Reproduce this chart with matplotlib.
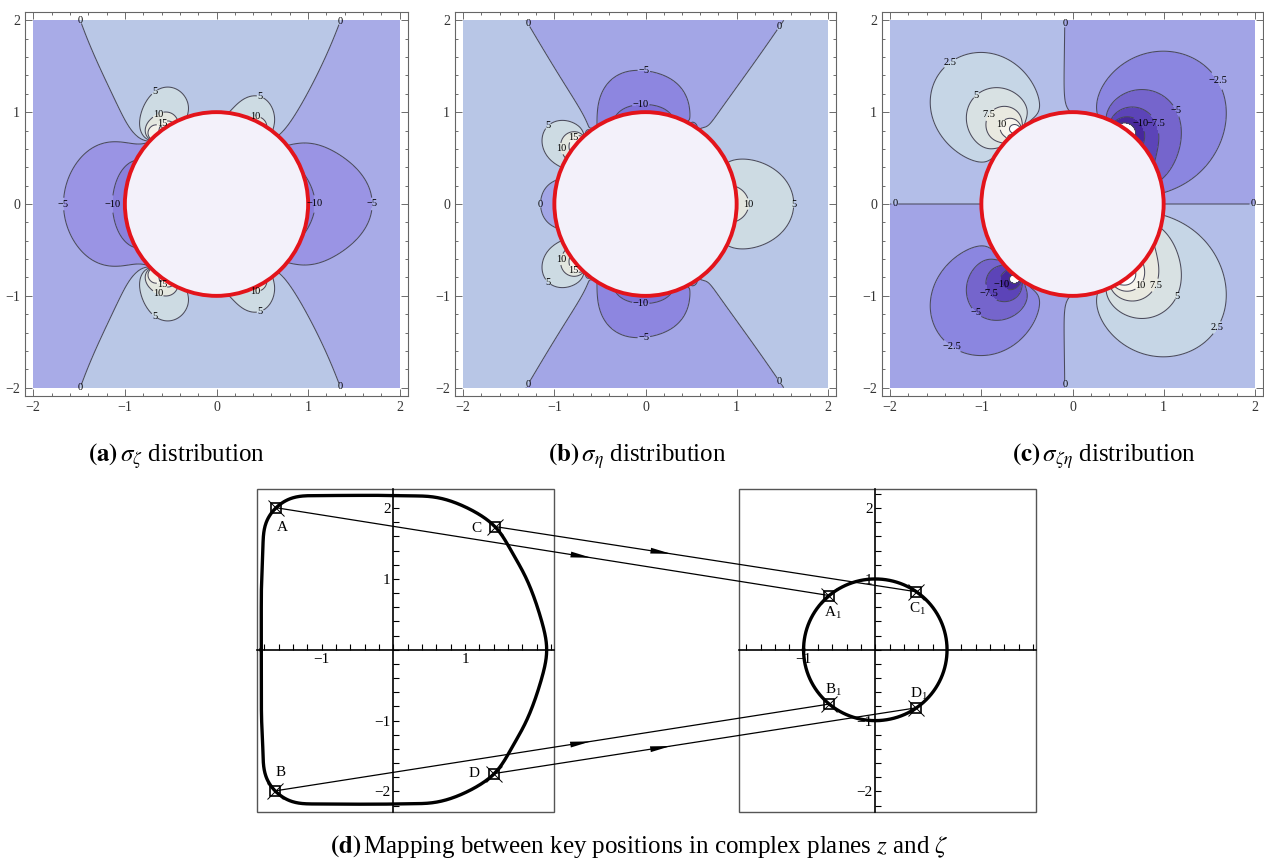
import numpy as np
import matplotlib
matplotlib.use("Agg")
import matplotlib.pyplot as plt
from matplotlib.patches import Circle, Rectangle, ConnectionPatch, FancyArrowPatch
from matplotlib.ticker import MultipleLocator
from matplotlib.transforms import IdentityTransform

W, H = 1264, 866

plt.rcParams["font.family"] = ["Liberation Serif", "DejaVu Serif"]
plt.rcParams["mathtext.fontset"] = "stix"
plt.rcParams["contour.negative_linestyle"] = "solid"

# ---- stress readings (x, y, value), upper half; the lower half follows by symmetry ----
SZ_PTS = [
    (-1.74, 1.99, 0), (-1.45, 1.49, 0), (-1.16, 1.13, 0), (-0.90, 0.84, 0),
    (1.37, 1.98, 0), (1.10, 1.42, 0), (0.84, 0.95, 0), (0.70, 0.77, 0),
    (-0.78, 0.66, -5), (-1.0, 0.66, -5), (-1.2, 0.655, -5), (-1.40, 0.58, -5), (-1.58, 0.32, -5), (-1.65, 0.0, -5),
    (0.79, 0.64, -5), (1.0, 0.64, -5), (1.30, 0.58, -5), (1.52, 0.38, -5), (1.64, 0.0, -5),
    (-1.10, 0.0, -10), (-1.05, 0.30, -10), (-0.88, 0.51, -10),
    (1.06, 0.0, -10), (1.04, 0.13, -10), (0.99, 0.26, -10),
    (-0.79, 1.02, 5), (-0.72, 1.20, 5), (-0.47, 1.27, 5), (-0.27, 1.13, 5), (-0.33, 0.97, 5),
    (0.19, 1.06, 5), (0.34, 1.18, 5), (0.52, 1.16, 5), (0.63, 0.95, 5), (0.62, 0.82, 5),
    (-0.70, 0.95, 10), (-0.58, 1.00, 10), (-0.44, 0.92, 10), (0.42, 0.95, 10),
    (-0.68, 0.875, 15), (-0.54, 0.89, 15),
    (0, 1.2, 2.5), (0, 1.6, 2), (0, 2, 1.5), (-0.9, 2, 1), (0.7, 2, 1), (-1.2, 1.8, 0.5),
    (2, 0, -4), (2, 1, -2.5), (2, 2, -1), (-2, 0, -4), (-2, 1, -2.5), (-2, 2, -1),
    (1.3, 1.0, -2.5), (-1.4, 1.0, -2.5), (1.3, 0.3, -7), (-1.3, 0.3, -7.5),
    (0.4, 1.4, 3), (-0.5, 1.45, 3), (-0.92, 1.0, 2.5),
    (1.25, 0.12, -8), (-1.25, 0.12, -8.5),
]
SZ_EDGE_ANG = [0, 15, 30, 45, 60, 75, 90, 100, 108, 120, 128, 145, 165, 180]
SZ_EDGE_VAL = [-11, -10, -8, -2, 12, 7, 3, 3.5, 5, 18, 15, -8, -12, -13]

SE_PTS = [
    (-1.26, 1.98, 0), (-0.97, 1.50, 0), (-0.75, 1.14, 0), (-0.62, 0.84, 0),
    (1.39, 1.98, 0), (1.12, 1.39, 0), (0.82, 1.03, 0), (0.63, 0.83, 0),
    (-1.15, 0.0, 0), (-1.07, 0.18, 0), (-1.0, 0.26, 0),
    (-0.55, 1.03, -5), (-0.42, 1.32, -5), (-0.02, 1.43, -5), (0.35, 1.32, -5), (0.49, 1.03, -5), (0.50, 0.88, -5),
    (-0.31, 0.98, -10), (-0.02, 1.05, -10), (0.27, 0.99, -10),
    (0.95, 0.48, 5), (1.30, 0.44, 5), (1.56, 0.19, 5), (1.57, 0.0, 5),
    (-0.90, 0.91, 5), (-1.13, 0.66, 5), (-0.97, 0.44, 5),
    (1.12, 0.0, 10), (1.03, 0.19, 10), (-0.95, 0.62, 10), (-0.88, 0.74, 10),
    (-0.82, 0.70, 15),
    (0, 1.2, -7.5), (0, 1.7, -4), (0, 2, -3), (0.9, 1.8, -1.5), (-0.9, 1.8, -1),
    (2, 1, 2), (2, 2, 1), (2, 0, 3.5), (1.3, 0.2, 7.5), (-2, 0, 1.5), (-2, 1, 1.5), (-2, 2, 1),
    (-1.3, 0.3, 2), (-1.05, 0.1, -1.5), (1.3, 1.0, 2), (-1.2, 1.0, 2.5), (1.6, 1.4, 1),
    (0.75, 0.85, 0.8), (0.6, 1.1, -3),
]
SE_EDGE_ANG = [0, 15, 27, 40, 75, 90, 108, 120, 140, 150, 160, 170, 180]
SE_EDGE_VAL = [12, 8, 5, 2.5, -10, -13, -10, -6, 20, 10, 3, -1.5, -3]

SS_PTS = [
    (-0.10, 1.99, 0), (-0.07, 1.30, 0), (-0.04, 1.02, 0),
    (-1.53, 1.12, 2.5), (-1.39, 1.49, 2.5), (-0.88, 1.59, 2.5), (-0.44, 1.38, 2.5), (-0.37, 1.12, 2.5),
    (-0.44, 0.92, 2.5), (-1.17, 0.53, 2.5), (-0.90, 0.47, 2.5),
    (-1.10, 0.97, 5), (-1.00, 1.12, 5), (-0.72, 1.23, 5), (-0.52, 1.05, 5),
    (-0.97, 0.90, 7.5), (-0.82, 1.06, 7.5), (-0.60, 1.03, 7.5),
    (-0.86, 0.86, 10), (-0.75, 0.95, 10), (-0.62, 0.92, 10),
    (0.30, 0.98, -2.5), (0.26, 1.12, -2.5), (0.58, 1.63, -2.5), (0.99, 1.72, -2.5), (1.50, 1.52, -2.5),
    (1.72, 1.12, -2.5), (1.64, 0.65, -2.5), (1.31, 0.25, -2.5), (1.03, 0.11, -2.5),
    (0.37, 1.01, -5), (0.66, 1.21, -5), (1.10, 1.09, -5), (1.20, 0.65, -5), (1.03, 0.36, -5),
    (0.50, 1.00, -7.5), (0.91, 0.85, -7.5), (0.95, 0.62, -7.5),
    (0.55, 0.95, -10), (0.78, 0.82, -10),
    (1.9, 1.9, -1.5), (1.9, 0.3, -0.7), (1.9, 1.0, -2), (1.0, 1.0, -6), (1.0, 1.4, -3.5), (1.4, 0.5, -3),
    (1.9, 1.5, -1.8), (1.85, 0.6, -1.6), (1.0, 1.95, -1.8), (0.3, 1.7, -1.0),
    (-1.9, 1.9, 1.0), (-1.9, 0.5, 0.8), (-1.9, 1.1, 1.5), (-0.9, 1.1, 6.5), (-0.9, 1.4, 3.5), (-1.3, 0.3, 1.0),
    (-1.75, 1.1, 1.8), (-1.6, 1.7, 1.6), (-0.9, 1.85, 1.6), (-1.9, 1.5, 1.3), (-1.6, 0.5, 1.2),
    (0.5, 1.9, -1), (-0.5, 1.9, 0.8),
]
SS_EDGE_ANG = [28, 40, 50, 55, 60, 66, 80, 100, 122, 130, 137, 145, 160, 170]
SS_EDGE_VAL = [-7.5, -10, -14, -15, -12, -7, -1.5, 0.7, 6, 14, 9, 4, 1.5, 0.5]

# stress concentrations sit next to the hole corners (angles in the zeta plane)
CORNER_ANGLES = [55, 130]

# ---- contour levels and band colours ----
SZ_LEVELS = [-10, -5, 0, 5, 10, 15]
SZ_COLORS = ["#8a80dc", "#9a94e4", "#a8abe7", "#b9c7e6", "#cddbe3", "#e4e7df", "#f4f2ea"]
SE_LEVELS = [-10, -5, 0, 5, 10, 15]
SE_COLORS = ["#7f72d8", "#8d86e0", "#a3a6e6", "#b8c6e6", "#cddbe3", "#e4e7df", "#f4f2ea"]
SS_LEVELS = [-12.5, -10, -7.5, -5, -2.5, 0, 2.5, 5, 7.5, 10, 12.5]
SS_COLORS = ["#ffffff", "#47289c", "#5c44b8", "#7565cc", "#8b86e0", "#a2a4e6",
             "#b3bee8", "#c6d6e6", "#d8e1e3", "#e9e9e0", "#f7f4ec", "#ffffff"]

SZ_LABELS = {0: [(-1.74, 1.99), (1.37, 1.98), (-1.74, -1.99), (1.37, -1.98)],
             -5: [(-1.65, 0), (1.64, 0)], -10: [(-1.10, 0), (1.06, 0)],
             5: [(-0.70, 1.25), (0.48, 1.18), (-0.70, -1.25), (0.48, -1.18)],
             10: [(-0.64, 0.98), (0.42, 0.95), (-0.64, -0.98), (0.42, -0.95)],
             15: [(-0.62, 0.90), (-0.62, -0.90)]}
SE_LABELS = {0: [(-1.26, 1.98), (1.39, 1.98), (-1.26, -1.98), (1.39, -1.98), (-1.15, 0)],
             -5: [(-0.02, 1.43), (-0.02, -1.43)], -10: [(-0.05, 1.05), (-0.05, -1.05)],
             5: [(1.57, 0), (-1.08, 0.86), (-1.08, -0.86)],
             10: [(1.12, 0), (-0.93, 0.60), (-0.93, -0.60)],
             15: [(-0.80, 0.73), (-0.80, -0.73)]}
SS_LABELS = {0: [(-0.10, 1.96), (-0.11, -1.96), (-1.95, 0), (1.98, 0)],
             2.5: [(-1.31, 1.49), (1.61, -1.36)], -2.5: [(1.62, 1.36), (-1.28, -1.49)],
             5: [(-1.0, 1.12), (1.11, -0.985)], -5: [(1.11, 1.0), (-0.985, -1.105)],
             7.5: [(-0.89, 0.96), (0.876, -0.87)], -7.5: [(0.91, 0.87), (-0.89, -0.96)],
             10: [(-0.81, 0.88), (0.71, -0.86)], -10: [(0.74, 0.87), (-0.80, -0.89)]}

# ---- hole outline in the z plane (upper half, traced from x>0 round to x<0) and key points ----
OUTLINE_X = [2.14, 2.116, 2.046, 1.953, 1.813, 1.628, 1.418, 1.255, 1.02, 0.79, 0.558, 0.30, 0.093,
             -0.20, -0.60, -1.00, -1.30, -1.45, -1.53, -1.62, -1.70, -1.77, -1.81, -1.825,
             -1.835, -1.84, -1.84, -1.84, -1.84]
OUTLINE_Y = [0.0, 0.198, 0.48, 0.763, 1.092, 1.422, 1.742, 1.87, 2.01, 2.10, 2.161, 2.17, 2.175,
             2.18, 2.18, 2.175, 2.165, 2.13, 2.095, 2.01, 1.92, 1.83, 1.55, 1.25,
             1.00, 0.75, 0.50, 0.25, 0.0]
KEY_NAMES = ["A", "B", "C", "D"]
KEY_X = [-1.62, -1.64, 1.418, 1.40]
KEY_Y = [1.99, -1.99, 1.742, -1.74]
KEY_ANG = [130, -130, 55, -55]
HEAD_AT = [0.575, 0.575, 0.425, 0.425]


def field_basis(x, y, sym):
    z = x + 1j * y
    r = np.abs(z)
    th = np.angle(z)
    trig = np.cos if sym > 0 else np.sin
    cols = [trig(2 * th)]
    if sym > 0:
        cols.append(np.ones_like(r))
    for n in range(0 if sym > 0 else 1, 9):
        for m in (2, 4, 6):
            cols.append(trig(n * th) / r ** m)
    # compact lobes next to the corners: 1/(z-p)^k minus its far-field part
    for ang in CORNER_ANGLES:
        p = 0.9 * np.exp(1j * np.radians(ang))
        for k in (1, 2, 3):
            w1 = 1 / (z - p) ** k - 1 / z ** k
            zc = np.conj(z)
            w2 = 1 / (zc - p) ** k - 1 / zc ** k
            cols.append(w1.real + sym * w2.real)
            cols.append(w1.imag + sym * w2.imag)
    return np.stack(cols, axis=-1)


def fit_field(pts, edge_ang, edge_val, sym):
    pts = np.array(pts, dtype=float)
    a = np.radians(edge_ang)
    x = np.concatenate([pts[:, 0], 1.02 * np.cos(a)])
    y = np.concatenate([pts[:, 1], 1.02 * np.sin(a)])
    v = np.concatenate([pts[:, 2], edge_val])
    A = field_basis(x, y, sym)
    s = np.linalg.norm(A, axis=0)
    An = A / s
    c = np.linalg.solve(An.T @ An + 1e-3 * np.eye(An.shape[1]), An.T @ v)
    return c / s


def fmt_level(v):
    return f"{v:g}".replace("-", "\u2212")


def add_ax(fig, left, top, w, h):
    return fig.add_axes([left / W, 1 - (top + h) / H, w / W, h / H])


def stress_panel(ax, pts, edge_ang, edge_val, sym, levels, colors, labels):
    coef = fit_field(pts, edge_ang, edge_val, sym)
    g = np.linspace(-2, 2, 401)
    X, Y = np.meshgrid(g, g)
    with np.errstate(all="ignore"):
        Z = field_basis(X, Y, sym) @ coef
    Z[np.hypot(X, Y) < 0.98] = np.nan

    ax.contourf(X, Y, Z, levels=[-1e6] + levels + [1e6], colors=colors)
    # one contour set per level so that each label lands on its own line
    for lv in levels:
        cs = ax.contour(X, Y, Z, levels=[lv], colors="#4a4a5c", linewidths=0.75)
        if lv not in labels or len(cs.get_paths()[0].vertices) == 0:
            continue
        for txt in cs.clabel(manual=labels[lv], inline=True, inline_spacing=1,
                             fmt=fmt_level, fontsize=7.5, colors="k", zorder=6):
            txt.set_rotation(0)

    ax.add_patch(Circle((0, 0), 1, facecolor="#f3f1fa", edgecolor="#e3141b", lw=2.8, zorder=5))
    ax.set_xlim(-2.09, 2.09)
    ax.set_ylim(-2.09, 2.09)
    ax.set_xticks([-2, -1, 0, 1, 2])
    ax.set_yticks([-2, -1, 0, 1, 2])
    ax.xaxis.set_minor_locator(MultipleLocator(0.2))
    ax.yaxis.set_minor_locator(MultipleLocator(0.2))
    ax.tick_params(which="both", direction="in", top=True, right=True, color="#555555",
                   labelsize=10, labelcolor="#333333", width=0.6)
    ax.tick_params(which="major", length=5)
    ax.tick_params(which="minor", length=2.5)
    for s in ax.spines.values():
        s.set_color("#666666")
        s.set_linewidth(0.8)


def fit_outline(nterms=24, smooth=5e-5):
    # closed curve x(t) even, y(t) odd in t; many harmonics held smooth by a curvature penalty
    x = np.array(OUTLINE_X)
    y = np.array(OUTLINE_Y)
    s = np.concatenate([[0], np.cumsum(np.hypot(np.diff(x), np.diff(y)))])
    t = np.pi * s / s[-1]
    k = np.arange(nterms + 1)
    Cx = np.cos(np.outer(t, k))
    Sy = np.sin(np.outer(t, k[1:]))
    ax_ = np.linalg.solve(Cx.T @ Cx + smooth * np.diag(k.astype(float) ** 4), Cx.T @ x)
    by_ = np.linalg.solve(Sy.T @ Sy + smooth * np.diag(k[1:].astype(float) ** 4), Sy.T @ y)
    tt = np.linspace(-np.pi, np.pi, 1500)
    return np.cos(np.outer(tt, k)) @ ax_, np.sin(np.outer(tt, k[1:])) @ by_


def plane_axes(ax, xt, yt):
    ax.set_xlim(-1.90, 2.24)
    ax.set_ylim(-2.29, 2.27)
    for s in ("top", "right"):
        ax.spines[s].set_visible(False)
    for s in ("left", "bottom"):
        ax.spines[s].set_position(("data", 0))
        ax.spines[s].set_linewidth(1.2)
    ax.add_patch(Rectangle((0, 0), 1, 1, transform=ax.transAxes, fill=False,
                           ec="#555555", lw=1.0, clip_on=False))
    ax.set_xticks(xt)
    ax.set_yticks(yt)
    ax.xaxis.set_minor_locator(MultipleLocator(0.2))
    ax.yaxis.set_minor_locator(MultipleLocator(0.2))
    ax.tick_params(which="both", direction="in", length=4, width=0.8, labelsize=11, pad=2)


fig = plt.figure(figsize=(W / 100, H / 100), dpi=100)

ax_a = add_ax(fig, 25, 12, 383, 384)
ax_b = add_ax(fig, 455, 12, 381, 384)
ax_c = add_ax(fig, 882, 12, 381, 384)
stress_panel(ax_a, SZ_PTS, SZ_EDGE_ANG, SZ_EDGE_VAL, 1, SZ_LEVELS, SZ_COLORS, SZ_LABELS)
stress_panel(ax_b, SE_PTS, SE_EDGE_ANG, SE_EDGE_VAL, 1, SE_LEVELS, SE_COLORS, SE_LABELS)
stress_panel(ax_c, SS_PTS, SS_EDGE_ANG, SS_EDGE_VAL, -1, SS_LEVELS, SS_COLORS, SS_LABELS)

# z plane and zeta plane
ax_z = add_ax(fig, 257, 489, 297, 323)
ax_w = add_ax(fig, 739, 489, 297, 323)
plane_axes(ax_z, [-1, 1], [-2, -1, 1, 2])
plane_axes(ax_w, [-1], [-2, -1, 1, 2])

hx, hy = fit_outline()
ax_z.plot(hx, hy, color="k", lw=2.4)
t = np.linspace(-np.pi, np.pi, 600)
ax_w.plot(np.cos(t), np.sin(t), color="k", lw=2.4)

z_off = [(6, -20), (5, 18), (-18, -2), (-20, 0)]
w_off = [(4, -17), (4, 14), (1, -17), (2, 14)]
for i, name in enumerate(KEY_NAMES):
    # key point sits on the outline, closest to where it was read
    j = np.argmin(np.hypot(hx - KEY_X[i], hy - KEY_Y[i]))
    zk = complex(hx[j], hy[j])
    wk = np.exp(1j * np.radians(KEY_ANG[i]))
    for ax, p, off, txt in ((ax_z, zk, z_off[i], name),
                            (ax_w, wk, w_off[i], name + r"$\mathregular{_1}$")):
        ax.plot(p.real, p.imag, marker="s", ms=7.5, mfc="none", mec="k", mew=1.2, zorder=6)
        ax.plot(p.real, p.imag, marker="x", ms=11, mec="k", mew=0.7, zorder=6)
        ax.annotate(txt, (p.real, p.imag), xytext=off, textcoords="offset pixels",
                    ha="center", va="center", fontsize=11)

    con = ConnectionPatch(xyA=(zk.real, zk.imag), coordsA=ax_z.transData,
                          xyB=(wk.real, wk.imag), coordsB=ax_w.transData,
                          color="k", lw=0.9)
    fig.add_artist(con)

    p0 = ax_z.transData.transform((zk.real, zk.imag))
    p1 = ax_w.transData.transform((wk.real, wk.imag))
    d = (p1 - p0) / np.hypot(*(p1 - p0))
    tip = p0 + HEAD_AT[i] * (p1 - p0)
    head = FancyArrowPatch(tuple(tip - 21 * d), tuple(tip), transform=IdentityTransform(),
                           arrowstyle="-|>,head_length=1.0,head_width=0.14",
                           mutation_scale=15, lw=0, color="k")
    fig.add_artist(head)

cap = dict(fontsize=18, va="baseline", ha="left")
fig.text(88 / W, 1 - 462 / H, r"$\mathbf{(a)}\,\sigma_{\zeta}$ distribution", **cap)
fig.text(548 / W, 1 - 462 / H, r"$\mathbf{(b)}\,\sigma_{\eta}$ distribution", **cap)
fig.text(1012 / W, 1 - 462 / H, r"$\mathbf{(c)}\,\sigma_{\zeta\eta}$ distribution", **cap)
fig.text(330 / W, 1 - 853 / H,
         r"$\mathbf{(d)}\,$Mapping between key positions in complex planes $z$ and $\zeta$", **cap)

fig.savefig("out.png", dpi=100)
